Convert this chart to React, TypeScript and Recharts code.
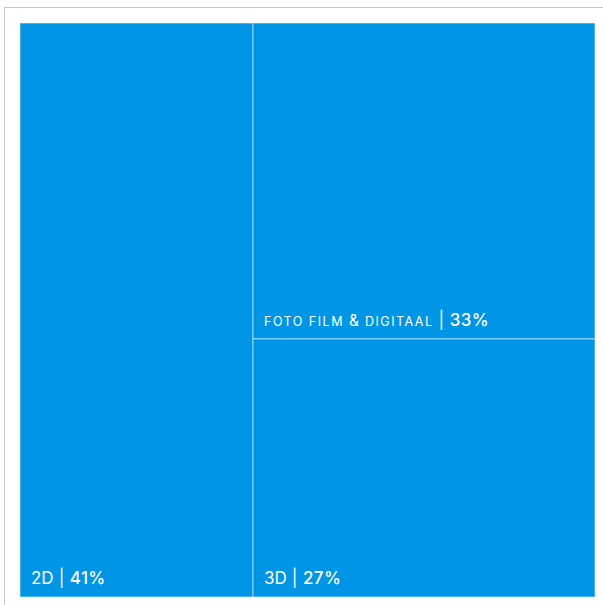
import React from 'react';
import { Treemap } from 'recharts';

const names = ['2D', 'FOTO FILM & DIGITAAL', '3D'];
const shares = [41, 33, 27];

// 2D gets its own column, the other two share the right column
const data = [
  { name: names[0], size: shares[0] },
  {
    name: 'rest',
    children: [
      { name: names[1], size: shares[1] },
      { name: names[2], size: shares[2] },
    ],
  },
];

const FILL = '#0095e5';
const FONT = "Inter, 'Open Sans', sans-serif";

function Label({ name }: { name: string }) {
  // long names are set small, with a full-size ampersand
  if (name.length <= 4) return <tspan fontSize={17}>{name}</tspan>;
  const parts = name.split('&');
  return (
    <tspan fontSize={12.5} letterSpacing={1.5}>
      {parts[0]}
      {parts.length > 1 && <tspan fontSize={15.5} letterSpacing={1}>&amp;</tspan>}
      {parts.length > 1 && <tspan fontSize={12.5}>{parts[1]}</tspan>}
    </tspan>
  );
}

function Cell(props: any) {
  const { x, y, width, height, name, size, children } = props;
  if (!name || (children && children.length)) return null;
  return (
    <g>
      <rect
        x={x}
        y={y}
        width={width}
        height={height}
        fill={FILL}
        stroke="rgba(255,255,255,0.55)"
        strokeWidth={1}
      />
      <text x={x + 11} y={y + height - 13.5} fill="#ffffff" fontFamily={FONT} stroke="none">
        <Label name={name} />
        <tspan fontSize={17} letterSpacing={0.3}>{' | '}</tspan>
        <tspan fontSize={17} fontWeight={500} letterSpacing={0.4}>{`${size}%`}</tspan>
      </text>
    </g>
  );
}

export default function App() {
  return (
    <div
      style={{
        position: 'absolute',
        left: 4,
        top: 7,
        width: 620,
        height: 620,
        borderTop: '1px solid #c8c8c8',
        borderLeft: '1px solid #c8c8c8',
        boxSizing: 'border-box',
      }}
    >
      <div style={{ position: 'absolute', left: 15, top: 15 }}>
        <Treemap
          width={575}
          height={574}
          data={data}
          dataKey="size"
          aspectRatio={0.5}
          stroke="#fff"
          content={<Cell />}
          isAnimationActive={false}
        />
      </div>
    </div>
  );
}
